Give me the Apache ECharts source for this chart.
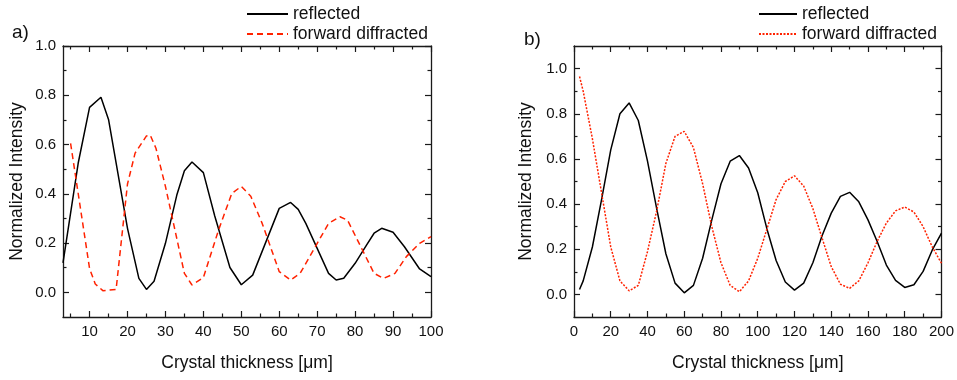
<!DOCTYPE html>
<html>
<head>
<meta charset="utf-8">
<script src="https://cdn.jsdelivr.net/npm/echarts@6/dist/echarts.min.js"></script>
<style>html,body{margin:0;padding:0;background:#fff}#c{width:957px;height:380px}</style>
</head>
<body>
<div id="c"></div>
<script>
// ---------- data: panel a) ----------
var aReflX = [3, 7, 10, 13, 15, 20, 23, 25, 27, 30, 33, 35, 37, 40, 43, 47, 50, 53, 60, 63, 65, 67, 73, 75, 77, 80, 83, 85, 87, 90, 93, 97, 100];
var aReflY = [0.12, 0.524, 0.751, 0.792, 0.702, 0.26, 0.057, 0.012, 0.045, 0.199, 0.395, 0.494, 0.529, 0.486, 0.31, 0.101, 0.031, 0.07, 0.341, 0.365, 0.337, 0.28, 0.077, 0.05, 0.057, 0.118, 0.192, 0.24, 0.26, 0.244, 0.185, 0.095, 0.064];
var aFwdX = [5, 10, 11.5, 13.5, 17, 20, 22, 25, 26, 27.5, 30, 35, 37, 40, 44, 47.5, 50, 52.5, 55.5, 60, 63, 65.5, 69.5, 73, 76, 78, 81.5, 85, 87.5, 90.5, 93.5, 97, 100];
var aFwdY = [0.605, 0.097, 0.034, 0.007, 0.012, 0.44, 0.565, 0.635, 0.638, 0.585, 0.43, 0.077, 0.03, 0.06, 0.253, 0.402, 0.43, 0.39, 0.28, 0.084, 0.05, 0.077, 0.185, 0.28, 0.307, 0.293, 0.185, 0.077, 0.057, 0.077, 0.145, 0.199, 0.226];
// ---------- data: panel b) ----------
var bX = [3, 5, 10, 15, 20, 25, 30, 35, 40, 45, 50, 55, 60, 65, 70, 75, 80, 85, 90, 95, 100, 105, 110, 115, 120, 125, 130, 135, 140, 145, 150, 155, 160, 165, 170, 175, 180, 185, 190, 195, 200];
var bReflY = [0.022, 0.06, 0.21, 0.42, 0.64, 0.80, 0.848, 0.77, 0.59, 0.38, 0.18, 0.05, 0.007, 0.04, 0.16, 0.33, 0.49, 0.59, 0.615, 0.56, 0.45, 0.29, 0.15, 0.055, 0.019, 0.05, 0.14, 0.26, 0.36, 0.434, 0.452, 0.41, 0.33, 0.234, 0.13, 0.062, 0.031, 0.043, 0.102, 0.197, 0.271];
var bFwdY = [0.965, 0.90, 0.69, 0.45, 0.21, 0.06, 0.016, 0.04, 0.19, 0.37, 0.58, 0.70, 0.722, 0.65, 0.49, 0.30, 0.14, 0.04, 0.012, 0.06, 0.16, 0.29, 0.42, 0.50, 0.525, 0.48, 0.38, 0.25, 0.123, 0.045, 0.027, 0.06, 0.14, 0.235, 0.316, 0.37, 0.387, 0.365, 0.30, 0.21, 0.138];
// ---------- ticks ----------
var aXMajor = [10, 20, 30, 40, 50, 60, 70, 80, 90, 100];
var aXMinor = [5, 15, 25, 35, 45, 55, 65, 75, 85, 95];
var bXMajor = [0, 20, 40, 60, 80, 100, 120, 140, 160, 180, 200];
var bXMinor = [10, 30, 50, 70, 90, 110, 130, 150, 170, 190];
var yMajor = [0, 0.2, 0.4, 0.6, 0.8, 1.0];
var yMinor = [0.1, 0.3, 0.5, 0.7, 0.9];
var nameReflected = 'reflected';
var nameForward = 'forward diffracted';
var xTitle = 'Crystal thickness [\u03bcm]';
var yTitle = 'Normalized Intensity';

function zip(xs, ys) { return xs.map(function (x, i) { return [x, ys[i]]; }); }

var FONT = 'Liberation Sans, Arial, sans-serif';
var AX = '#1a1a1a';
var xAxes = [], yAxes = [];

function addAxes(list, g, pos, min, max, major, minor, withLabel, name, nameGap, dec) {
  var idx = list.length;
  list.push({
    type: 'value', gridIndex: g, position: pos, min: min, max: max,
    axisLine: { show: true, onZero: false, lineStyle: { color: AX, width: 1.3 } },
    axisTick: { show: true, inside: true, length: 6, customValues: major, lineStyle: { color: AX, width: 1.2 } },
    axisLabel: { show: withLabel, customValues: major, color: '#111', fontSize: 15, fontFamily: FONT, margin: 7,
      formatter: function (v) { return dec ? v.toFixed(1) : String(Math.round(v)); } },
    splitLine: { show: false },
    name: name || '', nameLocation: 'middle', nameGap: nameGap || 0,
    nameTextStyle: { color: '#111', fontSize: 17.5, fontFamily: FONT }
  });
  list.push({
    type: 'value', gridIndex: g, position: pos, min: min, max: max,
    axisLine: { show: false, onZero: false },
    axisTick: { show: true, inside: true, length: 3.5, customValues: minor, lineStyle: { color: AX, width: 1.2 } },
    axisLabel: { show: false }, splitLine: { show: false }
  });
  return idx;
}

var ax0 = addAxes(xAxes, 0, 'bottom', 3, 100, aXMajor, aXMinor, true, xTitle, 37, false);
addAxes(xAxes, 0, 'top', 3, 100, aXMajor, aXMinor, false);
var ay0 = addAxes(yAxes, 0, 'left', -0.1, 1.0, yMajor, yMinor, true, yTitle, 37, true);
addAxes(yAxes, 0, 'right', -0.1, 1.0, yMajor, yMinor, false);
var bx0 = addAxes(xAxes, 1, 'bottom', 0, 200, bXMajor, bXMinor, true, xTitle, 37, false);
addAxes(xAxes, 1, 'top', 0, 200, bXMajor, bXMinor, false);
var by0 = addAxes(yAxes, 1, 'left', -0.1, 1.1, yMajor, yMinor, true, yTitle, 39, true);
addAxes(yAxes, 1, 'right', -0.1, 1.1, yMajor, yMinor, false);

var RED = '#ff2200';
function lineSeries(name, xi, yi, data, color, type) {
  return { type: 'line', name: name, xAxisIndex: xi, yAxisIndex: yi, data: data, symbol: 'none', showSymbol: false,
    smooth: false, animation: false, clip: true,
    lineStyle: { color: color, width: 1.5, type: type }, itemStyle: { color: color } };
}

var legendText = { fontSize: 17.5, fontFamily: FONT, color: '#111' };
var legendCommon = { orient: 'vertical', itemHeight: 12, itemGap: 2, textStyle: legendText, selectedMode: false,
  itemStyle: { opacity: 0 } };
var option = {
  backgroundColor: '#fff',
  animation: false,
  title: [
    { text: 'a)', left: 7, top: 18, textStyle: { fontSize: 19, fontWeight: 'normal', fontFamily: FONT, color: '#111' } },
    { text: 'b)', left: 519, top: 25, textStyle: { fontSize: 19, fontWeight: 'normal', fontFamily: FONT, color: '#111' } }
  ],
  legend: [
    Object.assign({ data: [nameReflected, nameForward], left: 241, top: 0, itemWidth: 41 }, legendCommon),
    Object.assign({ data: [nameReflected + ' ', nameForward + ' '], left: 753, top: 0, itemWidth: 38 }, legendCommon)
  ],
  grid: [
    { left: 63, top: 46, width: 368, height: 271, containLabel: false },
    { left: 574, top: 46, width: 368, height: 271, containLabel: false }
  ],
  xAxis: xAxes,
  yAxis: yAxes,
  series: [
    lineSeries(nameReflected, ax0, ay0, zip(aReflX, aReflY), '#000', 'solid'),
    lineSeries(nameForward, ax0, ay0, zip(aFwdX, aFwdY), RED, [6, 4]),
    lineSeries(nameReflected + ' ', bx0, by0, zip(bX, bReflY), '#000', 'solid'),
    lineSeries(nameForward + ' ', bx0, by0, zip(bX, bFwdY), RED, [2, 1.5])
  ]
};
var chart = echarts.init(document.getElementById('c'), null, { renderer: 'canvas' });
chart.setOption(option);
</script>
</body>
</html>
